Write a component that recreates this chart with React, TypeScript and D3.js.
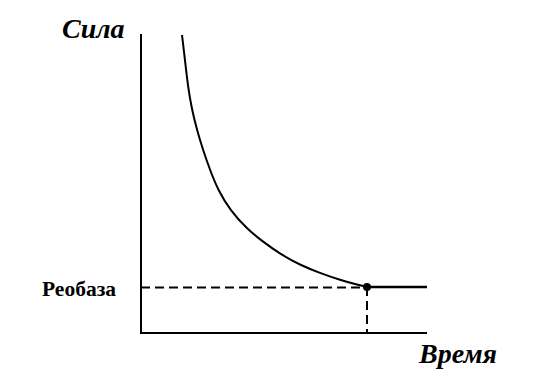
import React from "react";
import * as d3 from "d3";

const timeValues = [14.34, 15.38, 16.43, 17.83, 19.58, 21.68, 24.13, 26.92, 31.12, 37.06, 42.31, 48.6, 55.59, 62.59, 69.58, 76.57, 79.02];
const strengthValues = [100, 91.6, 82.55, 74.83, 68.12, 61.41, 54.7, 47.99, 41.28, 34.9, 30.87, 26.51, 22.82, 20.13, 17.79, 15.94, 15.44];
const rheobase = 15.44;
const rheobaseTime = 79.02;
const plateauEnd = 100;
const yLabel = "Сила";
const xLabel = "Время";
const rheobaseLabel = "Реобаза";

export default function App() {
  const W = 547, H = 379;
  const x = d3.scaleLinear().domain([0, 100]).range([141, 427]);
  const y = d3.scaleLinear().domain([0, 100]).range([333, 35]);
  const pts: [number, number][] = timeValues.map((t, i) => [t, strengthValues[i]]);
  const line = d3.line<[number, number]>().x(d => x(d[0])).y(d => y(d[1])).curve(d3.curveBasis);
  const font = "Liberation Serif";
  return (
    <svg width={W} height={H} style={{ position: "absolute", left: 0, top: 0, background: "#fff" }}>
      <line x1={x(0)} y1={34} x2={x(0)} y2={y(0) + 1} stroke="#000" strokeWidth={2} />
      <line x1={x(0) - 1} y1={y(0)} x2={x(plateauEnd)} y2={y(0)} stroke="#000" strokeWidth={2} />
      <path d={line(pts) || ""} fill="none" stroke="#000" strokeWidth={2} />
      <line x1={x(rheobaseTime)} y1={y(rheobase)} x2={x(plateauEnd)} y2={y(rheobase)} stroke="#000" strokeWidth={2.5} />
      <line x1={x(0)} y1={y(rheobase) + 0.5} x2={x(rheobaseTime)} y2={y(rheobase) + 0.5} stroke="#000" strokeWidth={2} strokeDasharray="9,5" />
      <line x1={x(rheobaseTime)} y1={y(rheobase)} x2={x(rheobaseTime)} y2={y(0)} stroke="#000" strokeWidth={2} strokeDasharray="9,5" />
      <circle cx={x(rheobaseTime)} cy={y(rheobase)} r={4} fill="#000" />
      <text x={62} y={38} fontFamily={font} fontWeight="bold" fontStyle="italic" fontSize={28}>{yLabel}</text>
      <text x={419} y={363} fontFamily={font} fontWeight="bold" fontStyle="italic" fontSize={28}>{xLabel}</text>
      <text x={42} y={296} fontFamily={font} fontWeight="bold" fontSize={21.5}>{rheobaseLabel}</text>
    </svg>
  );
}
